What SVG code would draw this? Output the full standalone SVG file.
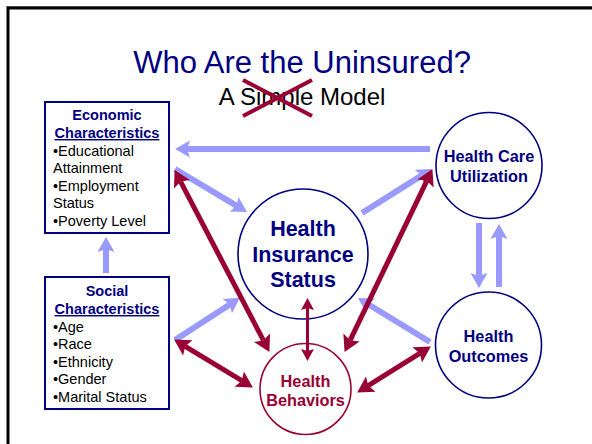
<svg xmlns="http://www.w3.org/2000/svg" width="592" height="444" viewBox="0 0 592 444">
<style>
text{font-family:"Liberation Sans",Arial,sans-serif}
.title{font-size:31px;fill:#000080}
.sub{font-size:24px;fill:#000}
.hd{font-size:14.5px;font-weight:bold;fill:#000080}
.it{font-size:14.5px;fill:#000}
.nl{font-size:16.3px;font-weight:bold;fill:#000080}
.box{fill:#fff;stroke:#000080;stroke-width:2}
.cir{fill:#fff;stroke:#000080;stroke-width:1.6}
.blue{stroke:#9999FF;stroke-width:6;fill:none;marker-end:url(#bh)}
.red{stroke:#990033;stroke-width:5;fill:none;marker-start:url(#rh);marker-end:url(#rh)}
</style>
<defs>
<marker id="bh" viewBox="-5 -12 20 24" markerWidth="20" markerHeight="24" refX="0" refY="0" markerUnits="userSpaceOnUse" orient="auto">
<path d="M-3,-8.5 L12,0 L-3,8.5 L0,0 Z" fill="#9999FF"/>
</marker>
<marker id="rh" viewBox="-5 -12 20 24" markerWidth="20" markerHeight="24" refX="0" refY="0" markerUnits="userSpaceOnUse" orient="auto-start-reverse">
<path d="M-3,-9 L13,0 L-3,9 L0,0 Z" fill="#990033"/>
</marker>
<marker id="rs" viewBox="-5 -12 20 24" markerWidth="20" markerHeight="24" refX="0" refY="0" markerUnits="userSpaceOnUse" orient="auto-start-reverse">
<path d="M-2,-6.5 L10,0 L-2,6.5 L0,0 Z" fill="#990033"/>
</marker>
</defs>
<rect x="0" y="0" width="592" height="444" fill="#fff"/>
<line x1="6" y1="6.5" x2="592" y2="6.5" stroke="#999" stroke-width="1"/>
<rect x="8" y="8" width="600" height="450" fill="none" stroke="#000" stroke-width="3"/>

<g id="title">
<text class="title" x="302" y="73" text-anchor="middle">Who Are the Uninsured?</text>
<text class="sub" x="302" y="105" text-anchor="middle">A Simple Model</text>
<path d="M243,80 L312,116 M243,116 L312,80" stroke="#990033" stroke-width="4" fill="none"/>
</g>

<g id="economic">
<rect class="box" x="45" y="102" width="124" height="131"/>
<text class="hd" x="107" y="120" text-anchor="middle">Economic</text>
<text class="hd" x="107" y="138" text-anchor="middle" text-decoration="underline">Characteristics</text>
<text class="it" x="53" y="155.5">•Educational</text>
<text class="it" x="53" y="173">Attainment</text>
<text class="it" x="53" y="190.5">•Employment</text>
<text class="it" x="53" y="208">Status</text>
<text class="it" x="53" y="225.5">•Poverty Level</text>
</g>

<g id="social">
<rect class="box" x="45" y="277" width="124" height="132"/>
<text class="hd" x="107" y="296" text-anchor="middle">Social</text>
<text class="hd" x="107" y="314" text-anchor="middle" text-decoration="underline">Characteristics</text>
<text class="it" x="53" y="331.5">•Age</text>
<text class="it" x="53" y="349">•Race</text>
<text class="it" x="53" y="366.5">•Ethnicity</text>
<text class="it" x="53" y="384">•Gender</text>
<text class="it" x="53" y="401.5">•Marital Status</text>
</g>

<g id="hcu">
<circle class="cir" cx="489" cy="165.5" r="53"/>
<text class="nl" x="489" y="162" text-anchor="middle">Health Care</text>
<text class="nl" x="489" y="182" text-anchor="middle">Utilization</text>
</g>

<g id="his">
<circle class="cir" cx="303" cy="254" r="65"/>
<text class="nl" x="303" y="236" text-anchor="middle" style="font-size:21.5px">Health</text>
<text class="nl" x="303" y="262" text-anchor="middle" style="font-size:21.5px">Insurance</text>
<text class="nl" x="303" y="287" text-anchor="middle" style="font-size:21.5px">Status</text>
</g>

<g id="hb">
<circle cx="305.5" cy="389" r="45.5" fill="#fff" stroke="#990033" stroke-width="1.6"/>
<text class="nl" x="305.5" y="387" text-anchor="middle" style="fill:#990033">Health</text>
<text class="nl" x="305.5" y="406" text-anchor="middle" style="fill:#990033">Behaviors</text>
</g>

<g id="ho">
<circle class="cir" cx="488.5" cy="345" r="53"/>
<text class="nl" x="488.5" y="342" text-anchor="middle">Health</text>
<text class="nl" x="488.5" y="362" text-anchor="middle">Outcomes</text>
</g>

<g id="connectors">
<line class="blue" x1="430" y1="149" x2="187" y2="149"/>
<line class="blue" x1="175" y1="169" x2="236.7" y2="205.8"/>
<line class="blue" x1="362" y1="213" x2="421.8" y2="175.4"/>
<line class="blue" x1="479" y1="223" x2="479" y2="276"/>
<line class="blue" x1="499" y1="287" x2="499" y2="236"/>
<line class="blue" x1="106" y1="273" x2="106" y2="249"/>
<line class="blue" x1="175" y1="340" x2="229.8" y2="304.4"/>
<line class="blue" x1="430" y1="342" x2="368.2" y2="304.3"/>
<line class="red" x1="180.6" y1="181.6" x2="263.4" y2="340.4"/>
<line class="red" x1="426.8" y1="180.8" x2="350.2" y2="340.2"/>
<line x1="307.5" y1="308" x2="307.5" y2="351" stroke="#990033" stroke-width="3" marker-start="url(#rs)" marker-end="url(#rs)"/>
<line class="red" x1="185.2" y1="346.3" x2="241.8" y2="380.7"/>
<line class="red" x1="419.8" y1="353.4" x2="368.2" y2="385.6"/>
</g>
</svg>
